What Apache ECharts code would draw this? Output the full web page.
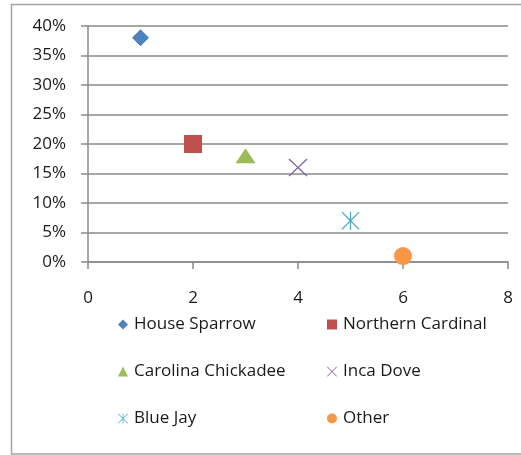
<!DOCTYPE html>
<html>
<head>
<meta charset="utf-8">
<script src="https://cdn.jsdelivr.net/npm/echarts@6/dist/echarts.min.js"></script>
<style>
  html, body { margin: 0; padding: 0; background: #fff; }
  #chart { width: 521px; height: 455px; }
</style>
</head>
<body>
<div id="chart"></div>
<script>
// Backyard bird sightings: share of each species
const species = ['House Sparrow', 'Northern Cardinal', 'Carolina Chickadee', 'Inca Dove', 'Blue Jay', 'Other'];
const xValues = [1, 2, 3, 4, 5, 6];
const shares = [0.38, 0.20, 0.18, 0.16, 0.07, 0.01];

const colors = ['#4F81BD', '#C0504D', '#9BBB59', '#8064A2', '#4BACC6', '#F79646'];

// Thin "x" and asterisk markers built as filled outlines
const crossPath = 'path://M0,1 L1,0 L10,9 L19,0 L20,1 L11,10 L20,19 L19,20 L10,11 L1,20 L0,19 L9,10 Z';
const starPath = 'path://M0,1 L1,0 L10,9 L19,0 L20,1 L11,10 L20,19 L19,20 L10,11 L1,20 L0,19 L9,10 Z M9.3,0 L10.7,0 L10.7,20 L9.3,20 Z';

const symbols = ['diamond', 'rect', 'triangle', crossPath, starPath, 'circle'];
const symbolSizes = [[17, 17], [18, 18], [20, 15], [19, 18], [18, 18], [18, 18]];

const FONT = '"Open Sans", sans-serif';

const legendPos = [
  { left: 118, top: 316 }, { left: 327, top: 316 },
  { left: 118, top: 363 }, { left: 327, top: 363 },
  { left: 118, top: 410 }, { left: 327, top: 410 }
];

const chart = echarts.init(document.getElementById('chart'), null, { renderer: 'canvas' });

const option = {
  animation: false,
  backgroundColor: '#ffffff',
  graphic: [{
    type: 'rect',
    shape: { x: 11.5, y: 4.5, width: 530, height: 449.5 },
    style: { fill: 'none', stroke: '#a3a3a3', lineWidth: 1.5 },
    silent: true,
    z: -1
  }],
  grid: { left: 88, right: 13, top: 26, bottom: 193 },
  xAxis: {
    type: 'value',
    min: 0, max: 8, interval: 2,
    axisLine: { show: true, lineStyle: { color: '#8a8a8a', width: 1.5 } },
    axisTick: { show: true, inside: false, length: 7, lineStyle: { color: '#8a8a8a', width: 1.5 } },
    splitLine: { show: false },
    axisLabel: { margin: 28, color: '#1a1a1a', fontFamily: FONT, fontSize: 17 }
  },
  yAxis: {
    type: 'value',
    min: 0, max: 0.4, interval: 0.05,
    axisLine: { show: true, lineStyle: { color: '#8a8a8a', width: 1.5 } },
    axisTick: { show: true, inside: false, length: 7, lineStyle: { color: '#8a8a8a', width: 1.5 } },
    splitLine: { show: true, lineStyle: { color: '#8a8a8a', width: 1.5 } },
    axisLabel: {
      margin: 22, color: '#1a1a1a', fontFamily: FONT, fontSize: 17,
      formatter: v => Math.round(v * 100) + '%'
    }
  },
  legend: species.map((name, i) => ({
    data: [name],
    left: legendPos[i].left,
    top: legendPos[i].top,
    orient: 'horizontal',
    padding: 0,
    itemWidth: 10,
    itemHeight: 10,
    itemGap: 0,
    selectedMode: false,
    textStyle: { color: '#1a1a1a', fontFamily: FONT, fontSize: 17, padding: [0, 0, 0, 1] }
  })),
  series: species.map((name, i) => ({
    name: name,
    type: 'scatter',
    symbol: symbols[i],
    symbolSize: symbolSizes[i],
    itemStyle: { color: colors[i], opacity: 1 },
    emphasis: { disabled: true },
    data: [[xValues[i], shares[i]]]
  }))
};

chart.setOption(option);
</script>
</body>
</html>
